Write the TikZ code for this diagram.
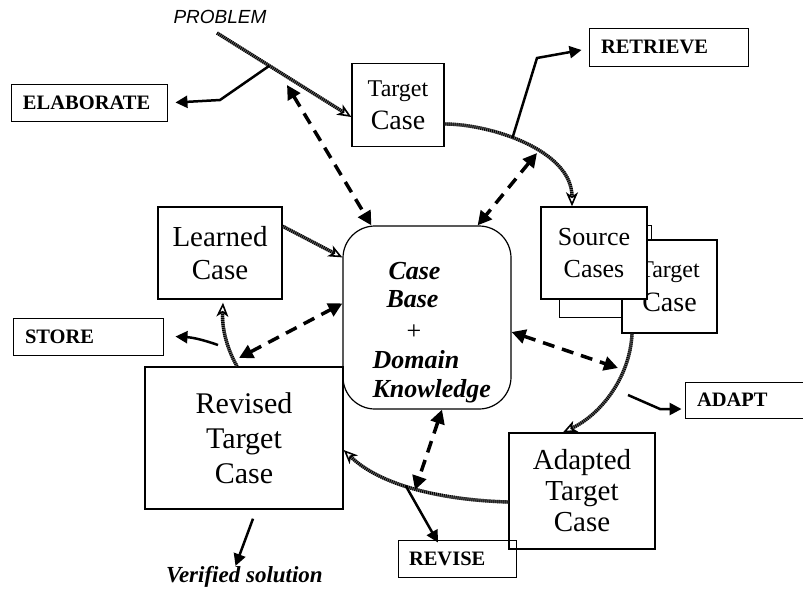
\documentclass[tikz,border=0pt]{standalone}
\usepackage{fontspec}
\setmainfont{Liberation Serif}
\newfontfamily\probfont{Liberation Sans}
\usetikzlibrary{arrows.meta}

\begin{document}
\begin{tikzpicture}[x=1pt,y=-1pt,
  cbox/.style={draw, line width=1.4pt, fill=white, inner sep=0pt, align=center},
  tagbox/.style={draw, line width=0.9pt, inner sep=0pt, inner xsep=12pt, align=left,
    font=\bfseries\fontsize{20.5}{22}\selectfont},
  rope/.style={draw=black!60, line width=3.4pt,
    -{Stealth[open, length=14pt, width=12pt, inset=4pt, line width=1.6pt, color=black]},
    postaction={draw=black, line width=3.4pt, dash pattern=on 0.9pt off 1.1pt, -, shorten >=10pt}},
  solidarr/.style={line width=2.5pt, line join=miter,
    -{Triangle[length=12pt, width=12pt]}},
  dasharr/.style={line width=3.5pt, dash pattern=on 12pt off 8pt,
    {Triangle[length=14pt, width=14pt]}-{Triangle[length=14pt, width=14pt]}}]
\useasboundingbox (0,0) rectangle (803,592);

% ---------- central knowledge store ----------
\node[draw, line width=1.2pt, rounded corners=32pt, minimum width=168pt, minimum height=183pt]
  (cb) at (427,317.5) {};
\node[anchor=base west, font=\bfseries\itshape\fontsize{26}{30}\selectfont] (cb1) at (385,279) {Case};
\node[anchor=base west, font=\bfseries\itshape\fontsize{26}{30}\selectfont] (cb2) at (383,307) {Base};
\node[anchor=base west, font=\fontsize{26}{30}\selectfont] (cb3) at (403,339) {+};
\node[anchor=base west, font=\bfseries\itshape\fontsize{26}{30}\selectfont] (cb4) at (369,368) {Domain};
\node[anchor=base west, font=\bfseries\itshape\fontsize{26}{30}\selectfont] (cb5) at (369,397) {Knowledge};

% ---------- case boxes ----------
\node[cbox, minimum width=92pt, minimum height=83pt, font=\fontsize{28}{33}\selectfont] (tc) at (398,105)
  {{\fontsize{24}{33}\selectfont Target}\\Case};
\node[cbox, minimum width=124pt, minimum height=92pt, font=\fontsize{29}{33}\selectfont] (lc) at (220,253)
  {Learned\\Case};

% stack of source / target cases
\node[draw, line width=0.9pt, fill=white, minimum width=92pt, minimum height=92pt] (bk) at (605,271) {};
\node[cbox, minimum width=95pt, minimum height=93pt, font=\fontsize{28}{34}\selectfont] (tg) at (669.5,286.5)
  {{\fontsize{24}{34}\selectfont Target}\\Case};
\node[cbox, minimum width=106pt, minimum height=92pt, font=\fontsize{26}{32}\selectfont] (src) at (594,253)
  {Source\\Cases};

\node[cbox, minimum width=198pt, minimum height=142pt, font=\fontsize{30}{35}\selectfont] (rv) at (244,438)
  {Revised\\Target\\Case};
\node[cbox, minimum width=146pt, minimum height=116pt, font=\fontsize{29}{31}\selectfont] (ad) at (582,491)
  {Adapted\\Target\\Case};

% ---------- step labels ----------
\node[tagbox, minimum width=156pt, minimum height=37pt, text width=132pt] (elab) at (89,102.5) {ELABORATE};
\node[tagbox, minimum width=159pt, minimum height=38pt, text width=135pt] (retr) at (668.5,47) {RETRIEVE};
\node[tagbox, minimum width=150pt, minimum height=37pt, text width=126pt] (st) at (88,336.5) {STORE};
\node[tagbox, minimum width=118pt, minimum height=36pt, text width=94pt] (adp) at (744,400) {ADAPT};
\node[tagbox, minimum width=118pt, minimum height=37pt, text width=96pt, inner xsep=10pt] (rev) at (457,558.5) {REVISE};

\node[font=\probfont\itshape\fontsize{19}{22}\selectfont] (prob) at (220,17) {PROBLEM};
\node[font=\bfseries\itshape\fontsize{23}{26}\selectfont] (ver) at (244.5,577) {Verified solution};

% ---------- free end points ----------
\coordinate (pstart) at (217,33);
\coordinate (ebend) at (220,100);
\coordinate (rbend) at (537,58);
\coordinate (dtl) at (287,85);
\coordinate (dtr) at (537,153);
\coordinate (drl) at (239,358);
\coordinate (dright) at (618,368);
\coordinate (dbot) at (415,490);
\coordinate (s0) at (218,345);
\coordinate (a0) at (628,395);
\coordinate (abend) at (660,409);

% ---------- cycle (rope arrows) ----------
\draw[rope] (pstart) -- coordinate[pos=0.39] (pb) ([yshift=-12pt]tc.west);
\draw[rope] ([yshift=-19pt]tc.east) .. controls (490,124) and (572,150) ..
  coordinate[pos=0.42] (r1) ([xshift=-22pt]src.north);
\draw[rope] ([xshift=-37.5pt]tg.south) .. controls (630,378) and (600,415) ..
  ([xshift=-19pt]ad.north);
\draw[rope] ([yshift=-11pt]ad.west) .. controls (440,500) and (380,485) ..
  coordinate[pos=0.55] (v1) ([yshift=-12pt]rv.east);
\draw[rope] ([xshift=-7pt]rv.north) .. controls (225,345) and (222,325) ..
  ([xshift=3pt,yshift=-3pt]lc.south);
\draw[rope] ([yshift=-20pt]lc.north east) -- ([yshift=-32pt]cb.north west);

% ---------- step arrows ----------
\draw[solidarr] (pb) -- (ebend) -- ([xshift=8pt]elab.east);
\draw[solidarr] (r1) -- (rbend) -- ([xshift=-7pt,yshift=-3pt]retr.west);
\draw[solidarr] (s0) to[bend right=8] ([xshift=12pt]st.east);
\draw[solidarr] (a0) -- (abend) -- ([xshift=-3pt,yshift=-9pt]adp.west);
\draw[solidarr] (v1) -- ([xshift=-19pt,yshift=-3pt]rev.north);
\draw[solidarr] ([xshift=9pt,yshift=-9pt]rv.south) -- ([xshift=-9pt,yshift=-3pt]ver.north);

% ---------- links to the knowledge store ----------
\draw[dasharr] (dtl) -- ([xshift=29pt]cb.north west);
\draw[dasharr] (dtr) -- ([xshift=-34pt]cb.north east);
\draw[dasharr] (drl) -- ([yshift=-78pt]cb.north west);
\draw[dasharr] ([yshift=-14.5pt]cb.east) -- (dright);
\draw[dasharr] ([xshift=15pt]cb.south) -- (dbot);
\end{tikzpicture}
\end{document}
